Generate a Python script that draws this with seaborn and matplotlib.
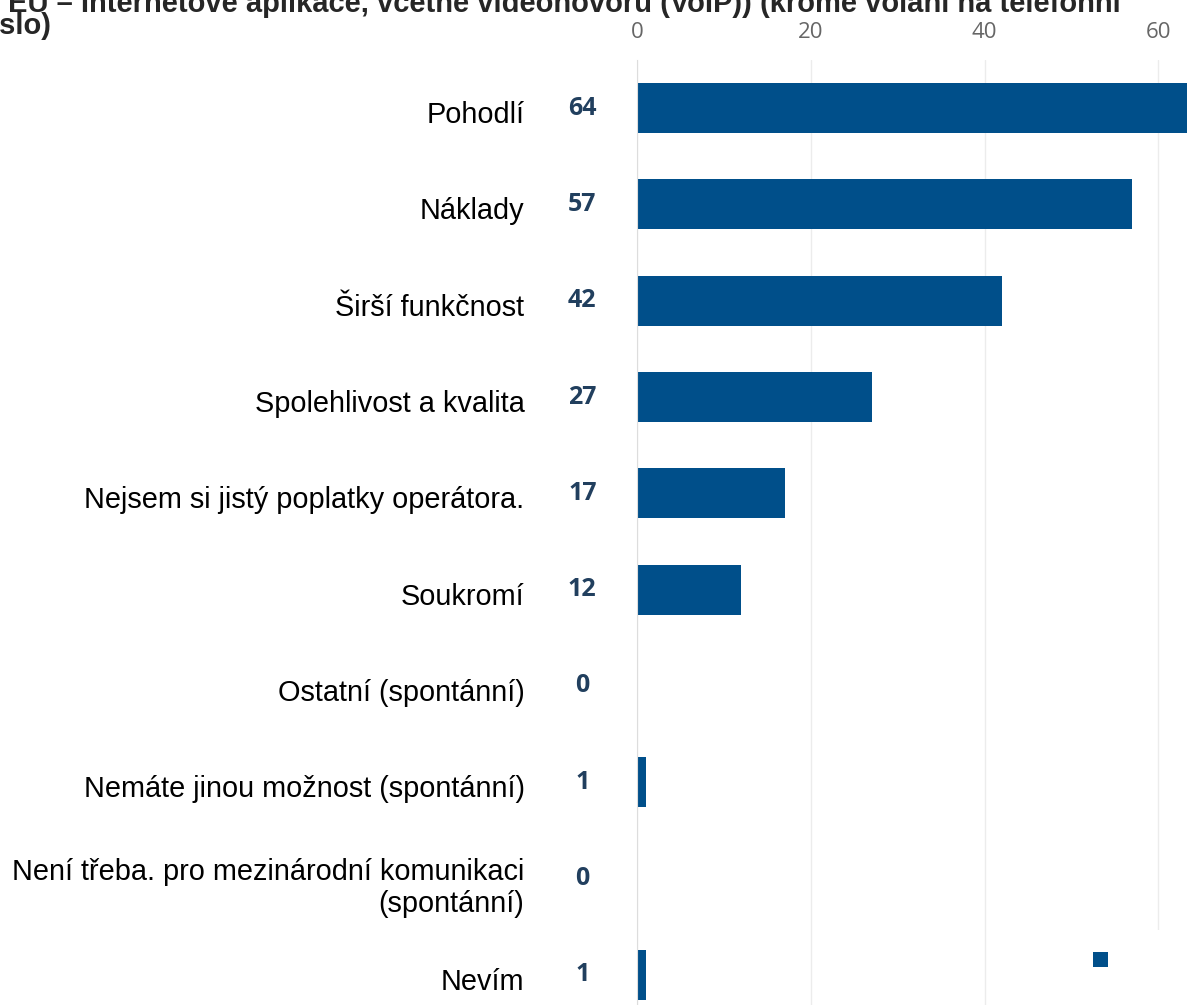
import matplotlib
matplotlib.use("Agg")
import matplotlib.pyplot as plt
import matplotlib.patches as mpatches
import matplotlib.transforms as mtransforms
import seaborn as sns

# Data
categories = [
    "Pohodlí",
    "Náklady",
    "Širší funkčnost",
    "Spolehlivost a kvalita",
    "Nejsem si jistý poplatky operátora.",
    "Soukromí",
    "Ostatní (spontánní)",
    "Nemáte jinou možnost (spontánní)",
    "Není třeba. pro mezinárodní komunikaci\n(spontánní)",
    "Nevím",
]
values = [64, 57, 42, 27, 17, 12, 0, 1, 0, 1]
x_ticks = [0, 20, 40, 60]
title_line1 = "EU – Internetové aplikace, včetně videohovorů (VoIP)) (kromě volání na telefonní"
title_line2 = "číslo)"

bar_color = "#004f8a"
W, H = 1187, 1005

sns.set_style("white")
plt.rcParams["font.family"] = ["Liberation Sans", "DejaVu Sans"]

fig = plt.figure(figsize=(W / 100, H / 100), dpi=100, facecolor="white")
ax = fig.add_axes([637 / W, -18 / H, 556 / W, 963 / H])

sns.barplot(x=values, y=categories, orient="h", color=bar_color,
            saturation=1, width=0.52, linewidth=0, ax=ax)

ax.set_xlim(0, 64)
ax.set_ylim(9.5, -0.5)
ax.set_xticks(x_ticks)
ax.xaxis.tick_top()
ax.tick_params(axis="x", length=0, pad=12, labelsize=16, labelcolor="#666666")
for lab in ax.get_xticklabels():
    lab.set_fontfamily("Open Sans")
ax.tick_params(axis="y", length=0, pad=81, labelsize=20.8, labelcolor="black")
shift = mtransforms.ScaledTranslation(0, -4 / 100, fig.dpi_scale_trans)
for lab in ax.get_yticklabels():
    lab.set_transform(lab.get_transform() + shift)
ax.grid(axis="x", color="#ececec", linewidth=1)
ax.set_axisbelow(True)
for side in ["top", "right", "bottom"]:
    ax.spines[side].set_visible(False)
ax.spines["left"].set_color("#dddddd")
ax.set_xlabel("")
ax.set_ylabel("")

# value labels in a column left of the axis
for i, v in enumerate(values):
    ax.text(-6.3, i, str(v), ha="center", va="center", fontsize=18,
            fontweight="bold", color="#213f5e", family="Open Sans",
            clip_on=False)

# clipped title
fig.text(8 / W, 1 - 12 / H, title_line1, ha="left", va="baseline",
         fontsize=21, fontweight="bold")
fig.text(-24 / W, 1 - 34 / H, title_line2, ha="left", va="baseline",
         fontsize=21, fontweight="bold")

# leftover legend patch in the lower right
fig.patches.append(mpatches.Rectangle((1080 / W, 0), (W - 1080) / W, 75 / H,
                                      transform=fig.transFigure,
                                      facecolor="white", edgecolor="none"))
fig.patches.append(mpatches.Rectangle((1093 / W, 1 - 967 / H), 15 / W, 15 / H,
                                      transform=fig.transFigure,
                                      facecolor=bar_color, edgecolor="none"))

fig.savefig("out.png", dpi=100, facecolor="white")
